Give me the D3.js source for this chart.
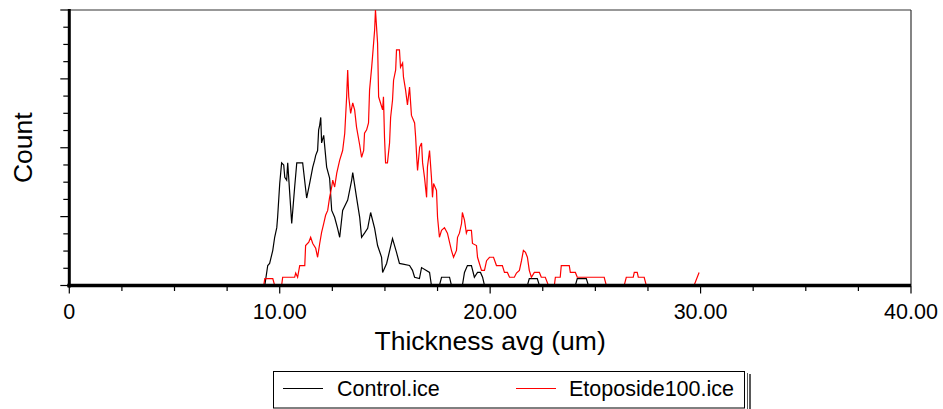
<!DOCTYPE html>
<html>
<head>
<meta charset="utf-8">
<script src="https://cdn.jsdelivr.net/npm/d3@7"></script>
<style>
  html, body { margin: 0; padding: 0; background: #fff; }
  svg { display: block; font-family: "Liberation Sans", Arial, sans-serif; }
</style>
</head>
<body>
<svg id="chart" width="943" height="409"></svg>
<script>
// ---- Data ----
const controlThickness = [9.29,9.43,9.52,9.67,9.76,9.86,9.90,10.00,10.09,10.19,10.24,10.33,10.38,10.57,10.71,10.81,11.09,11.28,11.42,11.57,11.66,11.71,11.80,11.85,11.90,11.95,11.99,12.09,12.23,12.37,12.47,12.61,12.75,12.85,12.99,13.23,13.42,13.47,13.65,13.80,13.89,14.03,14.18,14.32,14.51,14.65,14.84,14.89,15.08,15.36,15.55,15.69,16.17,16.31,16.41,16.64,16.74,17.12,17.21,17.59,17.69,18.07,18.16,18.68,18.78,18.92,19.11,19.25,19.40,19.54,19.64,19.73,21.77,21.86,22.24,22.34,24.05,24.14,24.57,24.67];
const controlCount     = [0,2.9,3.2,5.1,7.0,8.4,9.9,14.8,17.8,17.5,15.7,15.3,17.8,9.0,14.3,17.8,17.8,12.7,14.8,17.2,18.2,18.9,19.6,22.6,23.3,24.4,20.7,21.8,17.2,15.6,10.9,9.9,8.3,7.0,10.9,12.4,15.3,16.4,12.8,9.9,7.0,7.6,8.3,10.6,8.3,5.8,4.1,1.9,3.2,6.8,4.8,3.2,2.9,2.2,1.2,1.0,2.6,1.9,0,0,1.2,1.2,0,0,1.9,2.9,2.9,1.2,1.9,1.9,1.2,0,0,1.0,1.0,0,0,1.0,1.0,0];

const etoposideThickness = [9.24,9.29,9.67,9.76,10.09,10.14,10.71,10.76,10.85,10.95,11.19,11.23,11.38,11.47,11.57,11.71,11.80,11.90,11.99,12.09,12.18,12.28,12.37,12.47,12.52,12.61,12.71,12.85,12.99,13.09,13.18,13.23,13.28,13.37,13.47,13.56,13.65,13.80,13.89,13.99,14.03,14.13,14.22,14.27,14.37,14.41,14.51,14.55,14.65,14.70,14.79,14.89,14.93,14.98,15.03,15.12,15.22,15.27,15.36,15.41,15.51,15.55,15.69,15.74,15.84,15.88,15.98,16.07,16.17,16.26,16.41,16.46,16.51,16.55,16.65,16.74,16.79,16.88,16.98,17.02,17.12,17.21,17.26,17.31,17.45,17.50,17.59,17.69,17.83,17.97,18.16,18.26,18.40,18.45,18.54,18.64,18.68,18.78,18.87,18.92,19.11,19.16,19.35,19.40,19.49,19.59,19.73,19.83,19.97,20.16,20.30,20.58,20.68,20.82,20.92,21.15,21.25,21.39,21.49,21.58,21.68,21.77,21.86,21.96,22.10,22.34,22.43,22.62,22.77,23.05,23.10,23.33,23.38,23.76,23.81,24.05,24.14,25.42,25.52,26.37,26.47,26.80,26.85,26.99,27.04,27.32,27.42,29.69,29.93];
const etoposideCount     = [0,1.0,1.0,0,0,1.2,1.2,1.8,1.2,2.9,2.9,5.8,6.3,7.0,6.1,5.4,4.1,6.1,7.7,9.0,10.2,10.9,12.8,14.3,15.3,14.3,16.3,18.2,19.6,22.1,27.4,31.3,27.4,25.0,26.5,25.5,23.0,20.4,18.6,19.6,22.1,22.6,23.6,28.4,31.7,33.2,37.1,40,35.2,27.4,26.5,25.5,27.4,21.5,17.8,17.8,20.7,24.4,26.9,29.8,31.3,34.2,34.2,31.7,32.3,30.3,28.4,26.2,28.8,24.7,23.6,21.5,18.6,16.7,20.1,20.7,17.8,15.7,12.8,17.2,19.6,15.7,12.8,14.8,13.8,9.9,7.0,8.0,8.4,7.6,5.1,4.1,5.1,7.0,7.6,9.0,10.6,9.5,7.6,8.0,8.0,6.1,5.8,4.1,3.2,2.2,2.2,3.6,4.1,4.1,2.9,2.9,1.9,1.9,1.2,1.2,1.8,2.2,3.6,5.1,4.8,4.1,2.2,1.2,1.9,1.9,1.2,1.2,0,0,1.2,1.2,2.9,2.9,1.9,1.9,1.2,1.2,0,0,1.2,1.2,1.9,1.9,1.2,1.2,0,0,1.9];

const xTickLabels = ["0", "10.00", "20.00", "30.00", "40.00"];
const xLabelValues = [0, 10, 20, 30, 40];
const seriesNames = ["Control.ice", "Etoposide100.ice"];
const seriesColors = ["#000000", "#ff0000"];

(function () {
  const svg = d3.select("#chart");
  const pLeft = 69.3, pRight = 911, pTop = 10, pBottom = 285.5;

  const x = d3.scaleLinear().domain([0, 40]).range([pLeft, pRight]);
  const y = d3.scaleLinear().domain([0, 40]).range([pBottom, pTop]);

  // frame (top and right thin borders)
  svg.append("line").attr("x1", pLeft).attr("x2", pRight).attr("y1", pTop).attr("y2", pTop)
    .attr("stroke", "#333").attr("stroke-width", 1.2);
  svg.append("line").attr("x1", pRight).attr("x2", pRight).attr("y1", pTop).attr("y2", pBottom)
    .attr("stroke", "#333").attr("stroke-width", 1.2);

  // series
  const series = [
    { t: controlThickness, c: controlCount },
    { t: etoposideThickness, c: etoposideCount }
  ];
  const line = d3.line().x(d => x(d[0])).y(d => y(d[1]));
  series.forEach((s, i) => {
    const pts = s.t.map((v, j) => [v, s.c[j]]);
    svg.append("path").datum(pts)
      .attr("d", line)
      .attr("fill", "none")
      .attr("stroke", seriesColors[i])
      .attr("stroke-width", 1.2)
      .attr("stroke-linejoin", "miter");
  });

  // y axis: major + minor ticks, no labels
  const yMajor = d3.range(0, 40.01, 10);
  const yMinor = d3.range(0, 40.01, 2.5).filter(v => v % 10 !== 0);
  const yAxisG = svg.append("g");
  yAxisG.selectAll("line.maj").data(yMajor).join("line")
    .attr("x1", pLeft - 9).attr("x2", pLeft).attr("y1", d => y(d)).attr("y2", d => y(d))
    .attr("stroke", "#000").attr("stroke-width", 1.2);
  yAxisG.selectAll("line.min").data(yMinor).join("line")
    .attr("x1", pLeft - 6).attr("x2", pLeft).attr("y1", d => y(d)).attr("y2", d => y(d))
    .attr("stroke", "#000").attr("stroke-width", 1.2);

  // x axis ticks
  const xTicks = d3.range(0, 40.01, 2.5);
  const xAxisG = svg.append("g");
  xAxisG.selectAll("line").data(xTicks).join("line")
    .attr("x1", d => x(d)).attr("x2", d => x(d))
    .attr("y1", pBottom).attr("y2", d => pBottom + (d % 10 === 0 ? 8 : 5.5))
    .attr("stroke", "#000").attr("stroke-width", 1.2);
  xAxisG.selectAll("text").data(xLabelValues).join("text")
    .attr("x", d => x(d)).attr("y", 318.5)
    .attr("text-anchor", "middle")
    .attr("font-size", 21.5)
    .attr("fill", "#000")
    .text((d, i) => xTickLabels[i]);

  // thick axis lines
  svg.append("line").attr("x1", pLeft).attr("x2", pLeft).attr("y1", pTop - 1).attr("y2", pBottom + 2)
    .attr("stroke", "#000").attr("stroke-width", 3);
  svg.append("line").attr("x1", pLeft - 2).attr("x2", pRight).attr("y1", pBottom).attr("y2", pBottom)
    .attr("stroke", "#000").attr("stroke-width", 3.6);

  // axis titles
  svg.append("text").attr("x", (pLeft + pRight) / 2).attr("y", 350)
    .attr("text-anchor", "middle").attr("font-size", 26.5).attr("fill", "#000")
    .text("Thickness avg (um)");
  svg.append("text")
    .attr("transform", `translate(32,${(pTop + pBottom) / 2}) rotate(-90)`)
    .attr("text-anchor", "middle").attr("font-size", 26.5).attr("fill", "#000")
    .text("Count");

  // legend
  const lg = svg.append("g");
  lg.append("rect").attr("x", 273.5).attr("y", 371.5).attr("width", 471).attr("height", 36.5)
    .attr("fill", "#fff").attr("stroke", "#000").attr("stroke-width", 1);
  lg.append("line").attr("x1", 747.5).attr("x2", 747.5).attr("y1", 373).attr("y2", 409)
    .attr("stroke", "#555").attr("stroke-width", 1);
  lg.append("line").attr("x1", 750).attr("x2", 750).attr("y1", 374).attr("y2", 409)
    .attr("stroke", "#222").attr("stroke-width", 1.5);
  const legendItems = [
    { lx: 283, tx: 337 },
    { lx: 516, tx: 569 }
  ];
  legendItems.forEach((it, i) => {
    lg.append("line").attr("x1", it.lx).attr("x2", it.lx + 40).attr("y1", 388.5).attr("y2", 388.5)
      .attr("stroke", seriesColors[i]).attr("stroke-width", 1.2);
    lg.append("text").attr("x", it.tx).attr("y", 396).attr("font-size", 21.5).attr("fill", "#000")
      .text(seriesNames[i]);
  });
})();
</script>
</body>
</html>
